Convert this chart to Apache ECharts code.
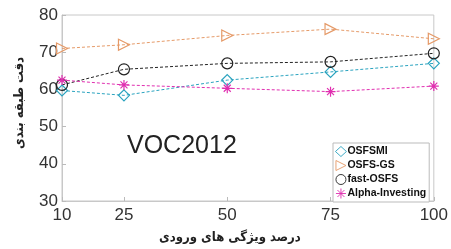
<!DOCTYPE html>
<html>
<head>
<meta charset="utf-8">
<script src="https://cdn.jsdelivr.net/npm/echarts@6/dist/echarts.min.js"></script>
<style>html,body{margin:0;padding:0;background:#fff}#main{width:451px;height:249px}</style>
</head>
<body>
<div id="main"></div>
<script>
// values
var xTicks = [10, 25, 50, 75, 100];
var osfsmi = [59.7, 58.4, 62.5, 64.7, 67.0];
var osfsGs = [71.0, 72.0, 74.5, 76.2, 73.6];
var fastOsfs = [61.2, 65.4, 67.0, 67.4, 69.7];
var alphaInv = [62.5, 61.2, 60.3, 59.4, 60.9];

var myChart = echarts.init(document.getElementById('main'));

var triRight = 'path://M0,0L10,5L0,10Z';
var star = 'path://M0,5L10,5M5,0L5,10M1.5,1.5L8.5,8.5M8.5,1.5L1.5,8.5';

function pairs(arr) {
    return arr.map(function (v, i) { return [xTicks[i], v]; });
}
function mk(name, data, color, symbol, size) {
    return {
        name: name,
        type: 'line',
        data: pairs(data),
        symbol: symbol,
        symbolSize: size,
        lineStyle: { color: color, width: 1, type: [3, 2] },
        itemStyle: { color: 'rgba(0,0,0,0)', borderColor: color, borderWidth: 1.2 },
        emphasis: { disabled: true },
        z: 3
    };
}

option = {
    animation: false,
    textStyle: { fontFamily: 'Liberation Sans, Arial, sans-serif' },
    grid: { left: 62, right: 14, top: 15, bottom: 45, show: true, borderColor: '#c8c8c8', borderWidth: 1 },
    legend: {
        left: 333, top: 143, orient: 'vertical',
        itemWidth: 11, itemHeight: 10, itemGap: 3,
        padding: [3, 3, 3, 2],
        borderColor: '#bbb', borderWidth: 1, backgroundColor: '#fff',
        itemStyle: { borderWidth: 0.9 },
        textStyle: { fontSize: 10.5, fontWeight: 'bold', color: '#111', lineHeight: 10, padding: [0, 0, 0, -4] },
        data: [
            { name: 'OSFSMI', icon: 'diamond' },
            { name: 'OSFS-GS', icon: triRight },
            { name: 'fast-OSFS', icon: 'circle' },
            { name: 'Alpha-Investing', icon: star }
        ]
    },
    xAxis: {
        type: 'value', min: 10, max: 100,
        name: 'درصد ویژگی های ورودی', nameLocation: 'middle', nameGap: 30,
        nameTextStyle: { fontSize: 13, fontWeight: 'bold', color: '#222', fontFamily: 'DejaVu Sans Condensed, DejaVu Sans', padding: [0, 36, 0, 0] },
        axisLine: { lineStyle: { color: '#c8c8c8' } },
        axisTick: { inside: true, length: 4, customValues: xTicks, lineStyle: { color: '#bbb' } },
        axisLabel: { customValues: xTicks, fontSize: 17, color: '#333', margin: 6 },
        splitLine: { show: false }
    },
    yAxis: {
        type: 'value', min: 30, max: 80, interval: 10,
        name: 'دقت طبقه بندی', nameLocation: 'middle', nameGap: 36,
        nameTextStyle: { fontSize: 13, fontWeight: 'bold', color: '#222', fontFamily: 'DejaVu Sans Condensed, DejaVu Sans', padding: [0, 0, 0, 10] },
        axisLine: { show: true, lineStyle: { color: '#c8c8c8' } },
        axisTick: { show: true, inside: true, length: 4, lineStyle: { color: '#bbb' } },
        axisLabel: { fontSize: 17, color: '#333', margin: 4 },
        splitLine: { show: false }
    },
    graphic: [{
        type: 'text', left: 127, top: 134,
        style: { text: 'VOC2012', fontSize: 25, fill: '#222', fontFamily: 'Liberation Sans, Arial' }
    }],
    series: [
        mk('OSFSMI', osfsmi, '#2aa3bf', 'diamond', 11),
        mk('OSFS-GS', osfsGs, '#e59a68', triRight, 11),
        mk('fast-OSFS', fastOsfs, '#222222', 'circle', 11),
        mk('Alpha-Investing', alphaInv, '#e02fb0', star, 10)
    ]
};

myChart.setOption(option);
</script>
</body>
</html>
